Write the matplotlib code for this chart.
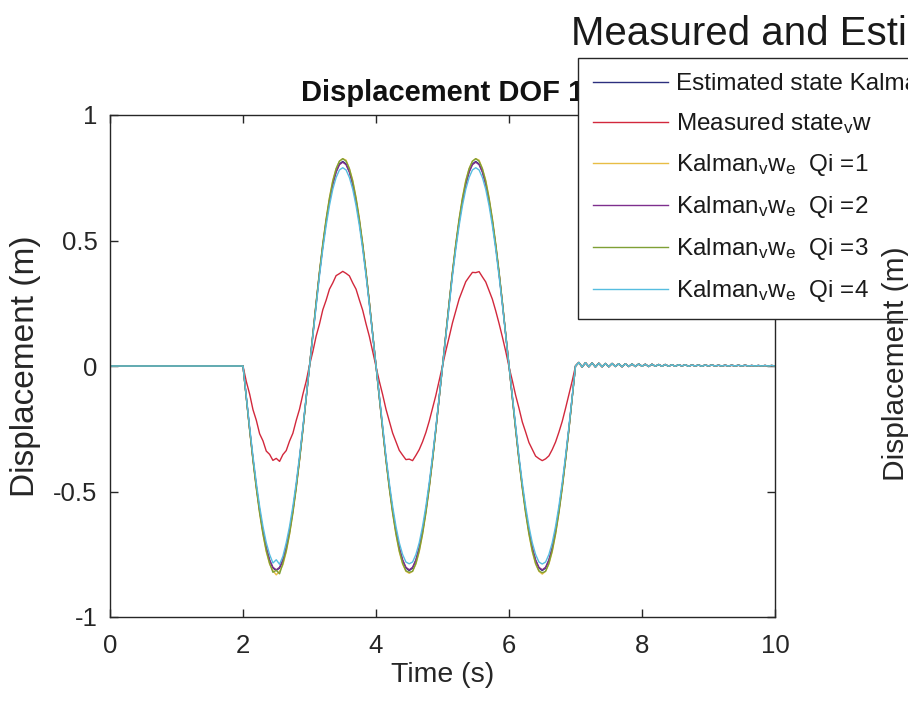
import matplotlib
matplotlib.use("Agg")
import matplotlib.pyplot as plt
import numpy as np

# sample times (s): one point before the excitation, the excitation window, the free tail
t_start = [0.0]
t_main = np.round(np.arange(2.0, 7.0001, 0.05), 2)
t_tail = np.round(np.arange(7.05, 10.0001, 0.05), 2)

# displacement (m) from 2.00 to 7.00 s, one row per half cycle
est_main = [
    0.0, -0.127, -0.252, -0.370, -0.479, -0.576, -0.659, -0.726, -0.775, -0.805, -0.815, -0.805, -0.775, -0.726, -0.659, -0.576, -0.479, -0.370, -0.252, -0.127,
    0.0, 0.127, 0.252, 0.370, 0.479, 0.576, 0.659, 0.726, 0.775, 0.805, 0.815, 0.805, 0.775, 0.726, 0.659, 0.576, 0.479, 0.370, 0.252, 0.127,
    0.0, -0.127, -0.252, -0.370, -0.479, -0.576, -0.659, -0.726, -0.775, -0.805, -0.815, -0.805, -0.775, -0.726, -0.659, -0.576, -0.479, -0.370, -0.252, -0.127,
    0.0, 0.127, 0.252, 0.370, 0.479, 0.576, 0.659, 0.726, 0.775, 0.805, 0.815, 0.805, 0.775, 0.726, 0.659, 0.576, 0.479, 0.370, 0.252, 0.127,
    0.0, -0.127, -0.252, -0.370, -0.479, -0.576, -0.659, -0.726, -0.775, -0.805, -0.815, -0.805, -0.775, -0.726, -0.659, -0.576, -0.479, -0.370, -0.252, -0.127,
    0.0]
meas_main = [
    0.0, -0.062, -0.112, -0.174, -0.216, -0.270, -0.298, -0.339, -0.352, -0.376, -0.368, -0.380, -0.353, -0.337, -0.299, -0.268, -0.217, -0.172, -0.113, -0.061,
    0.003, 0.057, 0.119, 0.167, 0.224, 0.262, 0.306, 0.331, 0.360, 0.368, 0.377, 0.369, 0.359, 0.331, 0.306, 0.263, 0.222, 0.168, 0.118, 0.057,
    -0.002, -0.061, -0.114, -0.172, -0.219, -0.267, -0.301, -0.336, -0.355, -0.373, -0.371, -0.377, -0.356, -0.333, -0.302, -0.265, -0.220, -0.169, -0.117, -0.058,
    0.002, 0.060, 0.115, 0.172, 0.219, 0.267, 0.301, 0.336, 0.355, 0.373, 0.372, 0.376, 0.355, 0.335, 0.301, 0.266, 0.220, 0.170, 0.116, 0.059,
    -0.003, -0.058, -0.117, -0.168, -0.223, -0.263, -0.305, -0.332, -0.359, -0.369, -0.377, -0.370, -0.358, -0.333, -0.303, -0.264, -0.221, -0.169, -0.115, -0.060,
    0.0]
q1_main = [
    0.0, -0.129, -0.256, -0.377, -0.488, -0.587, -0.671, -0.740, -0.789, -0.815, -0.832, -0.818, -0.792, -0.740, -0.671, -0.587, -0.488, -0.377, -0.256, -0.129,
    0.0, 0.129, 0.256, 0.377, 0.488, 0.587, 0.671, 0.740, 0.786, 0.816, 0.826, 0.820, 0.786, 0.740, 0.671, 0.587, 0.488, 0.377, 0.256, 0.129,
    0.0, -0.129, -0.256, -0.377, -0.488, -0.587, -0.671, -0.740, -0.789, -0.818, -0.826, -0.818, -0.789, -0.740, -0.671, -0.587, -0.488, -0.377, -0.256, -0.129,
    0.0, 0.129, 0.256, 0.377, 0.488, 0.587, 0.671, 0.740, 0.786, 0.816, 0.826, 0.820, 0.786, 0.740, 0.671, 0.587, 0.488, 0.377, 0.256, 0.129,
    0.0, -0.129, -0.256, -0.377, -0.488, -0.587, -0.671, -0.740, -0.789, -0.818, -0.829, -0.818, -0.789, -0.740, -0.671, -0.587, -0.488, -0.377, -0.256, -0.129,
    0.0]
q2_main = [
    0.0, -0.127, -0.251, -0.369, -0.477, -0.574, -0.657, -0.723, -0.772, -0.802, -0.812, -0.802, -0.772, -0.723, -0.657, -0.574, -0.477, -0.369, -0.251, -0.127,
    0.0, 0.127, 0.251, 0.369, 0.477, 0.574, 0.657, 0.723, 0.772, 0.802, 0.812, 0.802, 0.772, 0.723, 0.657, 0.574, 0.477, 0.369, 0.251, 0.127,
    0.0, -0.127, -0.251, -0.369, -0.477, -0.574, -0.657, -0.723, -0.772, -0.802, -0.812, -0.802, -0.772, -0.723, -0.657, -0.574, -0.477, -0.369, -0.251, -0.127,
    0.0, 0.127, 0.251, 0.369, 0.477, 0.574, 0.657, 0.723, 0.772, 0.802, 0.812, 0.802, 0.772, 0.723, 0.657, 0.574, 0.477, 0.369, 0.251, 0.127,
    0.0, -0.127, -0.251, -0.369, -0.477, -0.574, -0.657, -0.723, -0.772, -0.802, -0.812, -0.802, -0.772, -0.723, -0.657, -0.574, -0.477, -0.369, -0.251, -0.127,
    0.0]
q3_main = [
    0.0, -0.129, -0.255, -0.375, -0.486, -0.584, -0.668, -0.736, -0.786, -0.822, -0.814, -0.828, -0.786, -0.736, -0.668, -0.584, -0.486, -0.375, -0.255, -0.129,
    0.0, 0.129, 0.255, 0.375, 0.486, 0.584, 0.668, 0.736, 0.786, 0.816, 0.826, 0.816, 0.786, 0.736, 0.668, 0.584, 0.486, 0.375, 0.255, 0.129,
    0.0, -0.129, -0.255, -0.375, -0.486, -0.584, -0.668, -0.736, -0.786, -0.816, -0.822, -0.818, -0.786, -0.736, -0.668, -0.584, -0.486, -0.375, -0.255, -0.129,
    0.0, 0.129, 0.255, 0.375, 0.486, 0.584, 0.668, 0.736, 0.786, 0.816, 0.826, 0.816, 0.786, 0.736, 0.668, 0.584, 0.486, 0.375, 0.255, 0.129,
    0.0, -0.129, -0.255, -0.375, -0.486, -0.584, -0.668, -0.736, -0.786, -0.816, -0.824, -0.818, -0.786, -0.736, -0.668, -0.584, -0.486, -0.375, -0.255, -0.129,
    0.0]
q4_main = [
    0.0, -0.123, -0.244, -0.359, -0.465, -0.559, -0.639, -0.704, -0.751, -0.785, -0.772, -0.790, -0.758, -0.704, -0.639, -0.559, -0.465, -0.359, -0.244, -0.123,
    0.0, 0.123, 0.244, 0.359, 0.465, 0.559, 0.639, 0.704, 0.751, 0.781, 0.790, 0.781, 0.751, 0.704, 0.639, 0.559, 0.465, 0.359, 0.244, 0.123,
    0.0, -0.123, -0.244, -0.359, -0.465, -0.559, -0.639, -0.704, -0.751, -0.781, -0.788, -0.781, -0.751, -0.704, -0.639, -0.559, -0.465, -0.359, -0.244, -0.123,
    0.0, 0.123, 0.244, 0.359, 0.465, 0.559, 0.639, 0.704, 0.751, 0.781, 0.790, 0.781, 0.751, 0.704, 0.639, 0.559, 0.465, 0.359, 0.244, 0.123,
    0.0, -0.123, -0.244, -0.359, -0.465, -0.559, -0.639, -0.704, -0.751, -0.781, -0.789, -0.781, -0.751, -0.704, -0.639, -0.559, -0.465, -0.359, -0.244, -0.123,
    0.0]

# residual ringing after the excitation stops (7.05 .. 10 s)
tail = [0.014, -0.004, 0.013, -0.003, 0.012, -0.004, 0.011, -0.003, 0.010, -0.003,
        0.010, -0.002, 0.009, -0.003, 0.009, -0.002, 0.008, -0.002, 0.008, -0.001,
        0.007, -0.002, 0.007, -0.001, 0.006, -0.001, 0.006, -0.001, 0.005, -0.001,
        0.005, 0.000, 0.005, -0.001, 0.004, 0.000, 0.004, -0.001, 0.004, 0.000,
        0.004, 0.000, 0.003, 0.000, 0.003, 0.000, 0.003, 0.000, 0.003, 0.000,
        0.003, 0.000, 0.002, 0.000, 0.002, 0.000, 0.002, 0.000, 0.002, 0.000]

labels = ["Estimated state Kalman filter",
          r"Measured state$_{\mathrm{v}}$w",
          r"Kalman$_{\mathrm{v}}$w$_{\mathrm{e}}$  Qi =1",
          r"Kalman$_{\mathrm{v}}$w$_{\mathrm{e}}$  Qi =2",
          r"Kalman$_{\mathrm{v}}$w$_{\mathrm{e}}$  Qi =3",
          r"Kalman$_{\mathrm{v}}$w$_{\mathrm{e}}$  Qi =4"]
colors = ["#2c2f7e", "#d2283c", "#e8bd45", "#7e2f8e", "#7fa035", "#56bde0"]

x_ticks = [0, 2, 4, 6, 8, 10]
y_ticks = [-1, -0.5, 0, 0.5, 1]
y_tick_labels = ["-1", "-0.5", "0", "0.5", "1"]

plt.rcParams['font.family'] = 'Liberation Sans'
plt.rcParams['mathtext.fontset'] = 'custom'
plt.rcParams['mathtext.rm'] = 'Liberation Sans'
plt.rcParams['mathtext.it'] = 'Liberation Sans:italic'
plt.rcParams['axes.unicode_minus'] = False

ink = '#262626'

fig = plt.figure(figsize=(9.08, 7.06), dpi=100)
ax = fig.add_axes([110 / 908, 89 / 706, 665 / 908, 502 / 706])

t = np.concatenate([t_start, t_main, t_tail])
series = [est_main, meas_main, q1_main, q2_main, q3_main, q4_main]
for vals, color, label in zip(series, colors, labels):
    y = np.concatenate([[0.0], vals, tail])
    ax.plot(t, y, color=color, lw=1.0, label=label)

ax.set_xlim(0, 10)
ax.set_ylim(-1, 1)
ax.set_xticks(x_ticks)
ax.set_yticks(y_ticks, y_tick_labels)
ax.tick_params(direction='in', length=6, width=1, top=True, right=True,
               labelsize=18.5, pad=9, colors=ink)
ax.tick_params(axis='x', pad=12)
for sp in ax.spines.values():
    sp.set_linewidth(1.0)
    sp.set_color(ink)

ax.set_title("Displacement DOF 1", fontsize=21, fontweight='bold', pad=10, color='#111111')
ax.set_xlabel("Time (s)", fontsize=20.5, labelpad=3, color=ink)
ax.set_ylabel("Displacement (m)", fontsize=24, labelpad=9, color=ink)

leg = ax.legend(loc='upper left', bbox_to_anchor=(578 / 908, 1 - 58 / 706),
                bbox_transform=fig.transFigure, fontsize=17.5, frameon=True,
                fancybox=False, borderaxespad=0, handlelength=3.1,
                handletextpad=0.3, labelspacing=0.66, borderpad=0.62,
                framealpha=1, edgecolor=ink)
leg.get_frame().set_linewidth(1.0)
for txt in leg.get_texts():
    txt.set_color('#1a1a1a')

# figure-level title and the neighbouring subplot's y label
fig.text(571 / 908, 1 - 45 / 706, "Measured and Estimated Displacement", fontsize=29,
         ha='left', va='baseline', color='#1a1a1a')
fig.text(904 / 908, 1 - 364 / 706, "Displacement (m)", fontsize=21.5, rotation=90,
         rotation_mode='anchor', ha='center', va='baseline', color=ink)

fig.savefig("out.png", dpi=100)
